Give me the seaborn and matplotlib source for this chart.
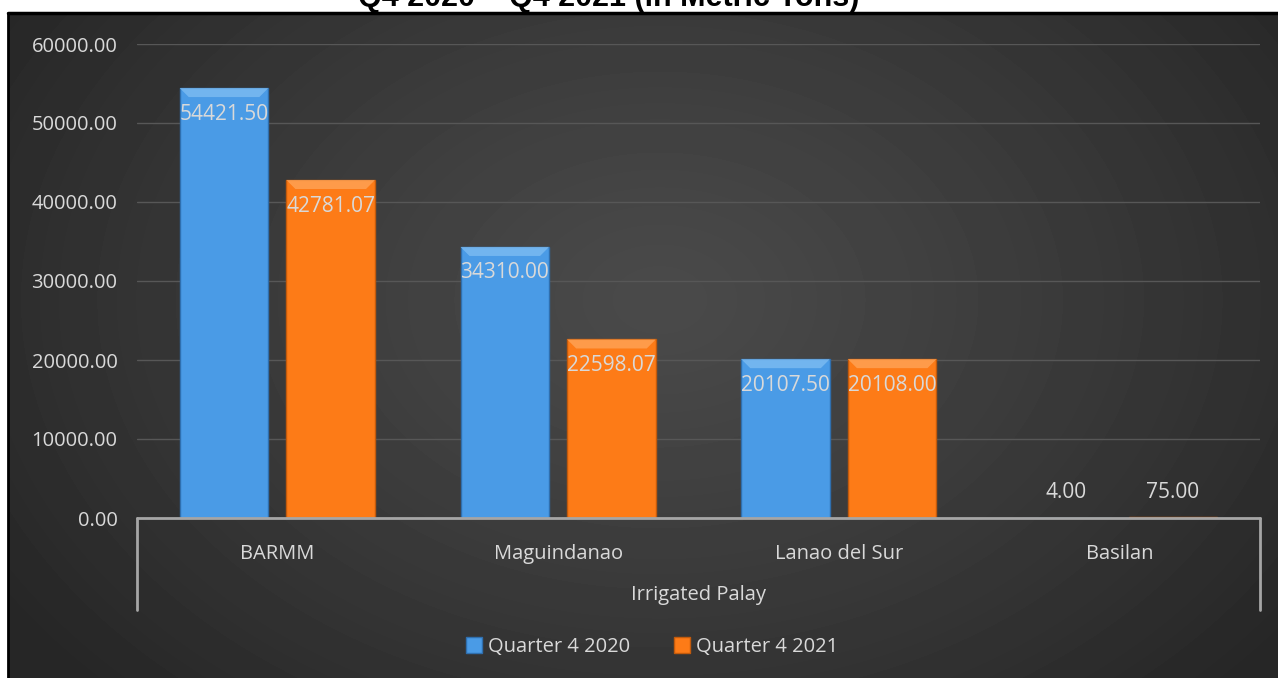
import numpy as np
import pandas as pd
import seaborn as sns
import matplotlib.pyplot as plt
from matplotlib.patches import Rectangle, Polygon

# chart values
provinces = ["BARMM", "Maguindanao", "Lanao del Sur", "Basilan"]
q4_2020 = [54421.50, 34310.00, 20107.50, 4.00]
q4_2021 = [42781.07, 22598.07, 20108.00, 75.00]
series = ["Quarter 4 2020", "Quarter 4 2021"]
yticks = [0, 10000, 20000, 30000, 40000, 50000, 60000]

df = pd.DataFrame({
    "province": provinces * 2,
    "value": q4_2020 + q4_2021,
    "period": [series[0]] * 4 + [series[1]] * 4,
})

sns.set_theme(style="dark")
plt.rcParams['font.family'] = ['Open Sans', 'DejaVu Sans']

W, H = 1278, 678
fig = plt.figure(figsize=(W / 100, H / 100), dpi=100)
fig.patch.set_facecolor("white")

# dark radial gradient chart background
bg = fig.add_axes([8 / W, 0, 1 - 8 / W, 1 - 13 / H])
bg.set_axis_off()
gx, gy = np.meshgrid(np.linspace(8, W, 1270), np.linspace(13, H, 665))
r = np.sqrt(((gx - 660) / 780) ** 2 + ((gy - 300) / 560) ** 2)
shade = 0.29 - 0.14 * np.clip(r, 0, 1) ** 1.2
bg.imshow(shade, cmap="gray", vmin=0, vmax=1, aspect="auto",
          extent=[0, 1, 0, 1], origin="upper", interpolation="bilinear")
bg.set_xlim(0, 1)
bg.set_ylim(0, 1)
# black frame of the chart
fig.add_artist(plt.Line2D([8 / W, 1], [1 - 13 / H] * 2, color="black", lw=2.5))
fig.add_artist(plt.Line2D([8 / W] * 2, [0, 1 - 13 / H], color="black", lw=2))

# title (cut off at the top as in the source)
fig.text(0.4765, 1 - 6 / H, "Q4 2020 – Q4 2021 (in Metric Tons)",
         family="Liberation Sans", weight="bold", fontsize=22,
         ha="center", va="baseline", color="black")

ax = fig.add_axes([137 / W, 1 - 518 / H, (1260 - 137) / W, (518 - 44) / H])
ax.patch.set_alpha(0)

palette = {series[0]: "#4a9be6", series[1]: "#fd7b17"}
sns.barplot(data=df, x="province", y="value", hue="period", order=provinces,
            hue_order=series, palette=palette, width=0.76, gap=0.17,
            saturation=1, ax=ax, legend=False, errorbar=None)

edge = {series[0]: "#2f6fae", series[1]: "#c25a0c"}
bevel = {series[0]: "#7dbcf2", series[1]: "#ffa457"}
px_y = 60000 / (518 - 44)
px_x = 4 / (1260 - 137)
for cont, s in zip(ax.containers, series):
    for bar in cont:
        bar.set_edgecolor(edge[s])
        bar.set_linewidth(1)
    for bar, v in zip(cont, cont.datavalues):
        x0, w = bar.get_x(), bar.get_width()
        if v > 2000:
            # light top bevel like the source's 3-D bars
            d = 9
            ax.add_patch(Polygon([(x0, v), (x0 + w, v), (x0 + w - d * px_x, v - d * px_y),
                                  (x0 + d * px_x, v - d * px_y)],
                                 closed=True, facecolor=bevel[s], edgecolor="none", alpha=0.8))
        off = -26 if v > 5000 else 25
        ax.annotate(f"{v:.2f}", (x0 + w / 2, v),
                    xytext=(0, off * 0.72), textcoords="offset points",
                    ha="center", va="center", fontsize=15, color="#d9d9d9")

ax.set_ylim(0, 60000)
ax.set_xlim(-0.5, 3.5)
ax.set_yticks(yticks)
ax.set_yticklabels([f"{t:.2f}" for t in yticks], color="#d9d9d9", fontsize=14.5)
ax.yaxis.grid(True, color="#575757", lw=1)
ax.xaxis.grid(False)
ax.tick_params(axis="y", length=0, pad=14)
ax.tick_params(axis="x", length=0, pad=19, colors="#d9d9d9", labelsize=14.5)
ax.set_xlabel("")
ax.set_ylabel("")
for sp in ax.spines.values():
    sp.set_visible(False)

# multi-level category axis lines
tr = ax.get_xaxis_transform()
depth = -92 / (518 - 44)
ax.plot([-0.5, 3.5], [0, 0], transform=tr, color="#a6a6a6", lw=2, clip_on=False)
ax.plot([-0.5, -0.5], [0, depth], transform=tr, color="#a6a6a6", lw=2, clip_on=False)
ax.plot([3.5, 3.5], [0, depth], transform=tr, color="#a6a6a6", lw=2, clip_on=False)
ax.text(1.5, -77 / (518 - 44), "Irrigated Palay", transform=tr, ha="center",
        va="center", fontsize=14.5, color="#d9d9d9")

handles = [Rectangle((0, 0), 1, 1, facecolor=palette[s], edgecolor=edge[s]) for s in series]
fig.legend(handles, series, loc="center", bbox_to_anchor=(652 / W, 1 - 647 / H),
           ncol=2, frameon=False, fontsize=14.5, labelcolor="#d9d9d9",
           handlelength=0.8, handleheight=0.8, handletextpad=0.3, columnspacing=2.2)

fig.savefig("out.png", dpi=100)
